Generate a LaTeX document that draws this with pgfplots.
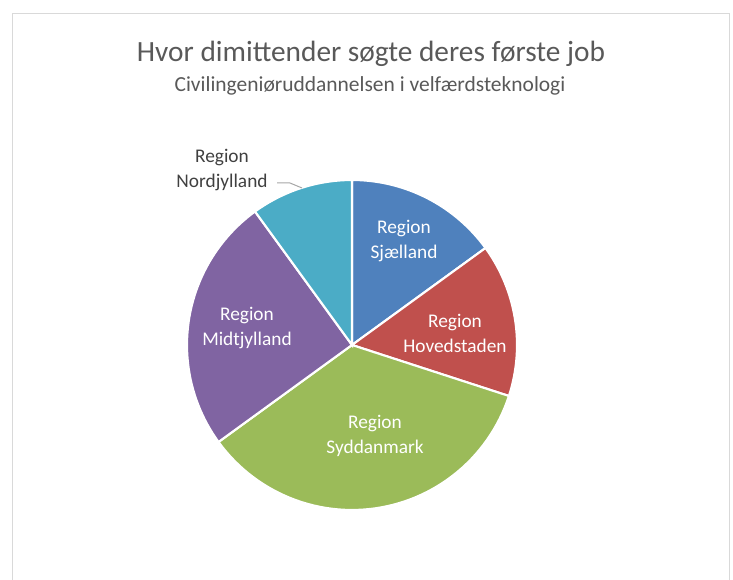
\documentclass[border=0pt]{standalone}
\usepackage{pgfplots}
\pgfplotsset{compat=1.18}
\usepackage{fontspec}
\setmainfont{Carlito}
\definecolor{cSj}{HTML}{4F81BD}
\definecolor{cHo}{HTML}{C0504D}
\definecolor{cSy}{HTML}{9BBB59}
\definecolor{cMi}{HTML}{8064A2}
\definecolor{cNo}{HTML}{4BACC6}
\definecolor{ttl}{HTML}{595959}
\definecolor{lbl}{HTML}{404040}
\definecolor{frm}{HTML}{D9D9D9}
% values (percent), clockwise from 12 o'clock
\def\vSj{15}\def\vHo{15}\def\vSy{35}\def\vMi{25}\def\vNo{10}
\pgfmathsetmacro\aA{0}
\pgfmathsetmacro\aB{\aA+3.6*\vSj}
\pgfmathsetmacro\aC{\aB+3.6*\vHo}
\pgfmathsetmacro\aD{\aC+3.6*\vSy}
\pgfmathsetmacro\aE{\aD+3.6*\vMi}
\pgfmathsetmacro\aF{\aE+3.6*\vNo}
\def\cx{352}\def\cy{235}\def\R{165}
\begin{document}
\begin{tikzpicture}
\begin{axis}[x=0.75pt,y=0.75pt,xmin=0,xmax=733,ymin=0,ymax=580,
  hide axis, anchor=south west, at={(0pt,0pt)}, clip=false]
\draw[frm, line width=0.75pt] (axis cs:12,-20) -- (axis cs:12,566) -- (axis cs:729,566) -- (axis cs:729,-20);
\addplot[fill=cSj, draw=white, line width=1.6pt, domain=\aA:\aB, samples=40, variable=\t] ({\cx+\R*sin(t)},{\cy+\R*cos(t)}) -- (axis cs:\cx,\cy) -- cycle;
\addplot[fill=cHo, draw=white, line width=1.6pt, domain=\aB:\aC, samples=40, variable=\t] ({\cx+\R*sin(t)},{\cy+\R*cos(t)}) -- (axis cs:\cx,\cy) -- cycle;
\addplot[fill=cSy, draw=white, line width=1.6pt, domain=\aC:\aD, samples=60, variable=\t] ({\cx+\R*sin(t)},{\cy+\R*cos(t)}) -- (axis cs:\cx,\cy) -- cycle;
\addplot[fill=cMi, draw=white, line width=1.6pt, domain=\aD:\aE, samples=50, variable=\t] ({\cx+\R*sin(t)},{\cy+\R*cos(t)}) -- (axis cs:\cx,\cy) -- cycle;
\addplot[fill=cNo, draw=white, line width=1.6pt, domain=\aE:\aF, samples=30, variable=\t] ({\cx+\R*sin(t)},{\cy+\R*cos(t)}) -- (axis cs:\cx,\cy) -- cycle;
\node[text=ttl, font=\fontsize{22}{26}\selectfont] at (axis cs:371,526) {Hvor dimittender søgte deres første job};
\node[text=ttl, font=\fontsize{16.1}{19}\selectfont] at (axis cs:370,494) {Civilingeniøruddannelsen i velfærdsteknologi};
\tikzset{lab/.style={align=center, font=\fontsize{14.5}{18.75}\selectfont}}
\node[white, lab] at (axis cs:404,339) {Region\\Sjælland};
\node[white, lab] at (axis cs:455,247) {Region\\Hovedstaden};
\node[white, lab] at (axis cs:375,144) {Region\\Syddanmark};
\node[white, lab] at (axis cs:247,252) {Region\\Midtjylland};
\node[text=lbl, lab] at (axis cs:222,410) {Region\\Nordjylland};
\draw[gray!70, line width=0.75pt] (axis cs:277,397) -- (axis cs:290,397) -- (axis cs:302,392);
\end{axis}
\pgfresetboundingbox
\useasboundingbox (0,0) rectangle (549.75pt,435pt);
\end{tikzpicture}
\end{document}
